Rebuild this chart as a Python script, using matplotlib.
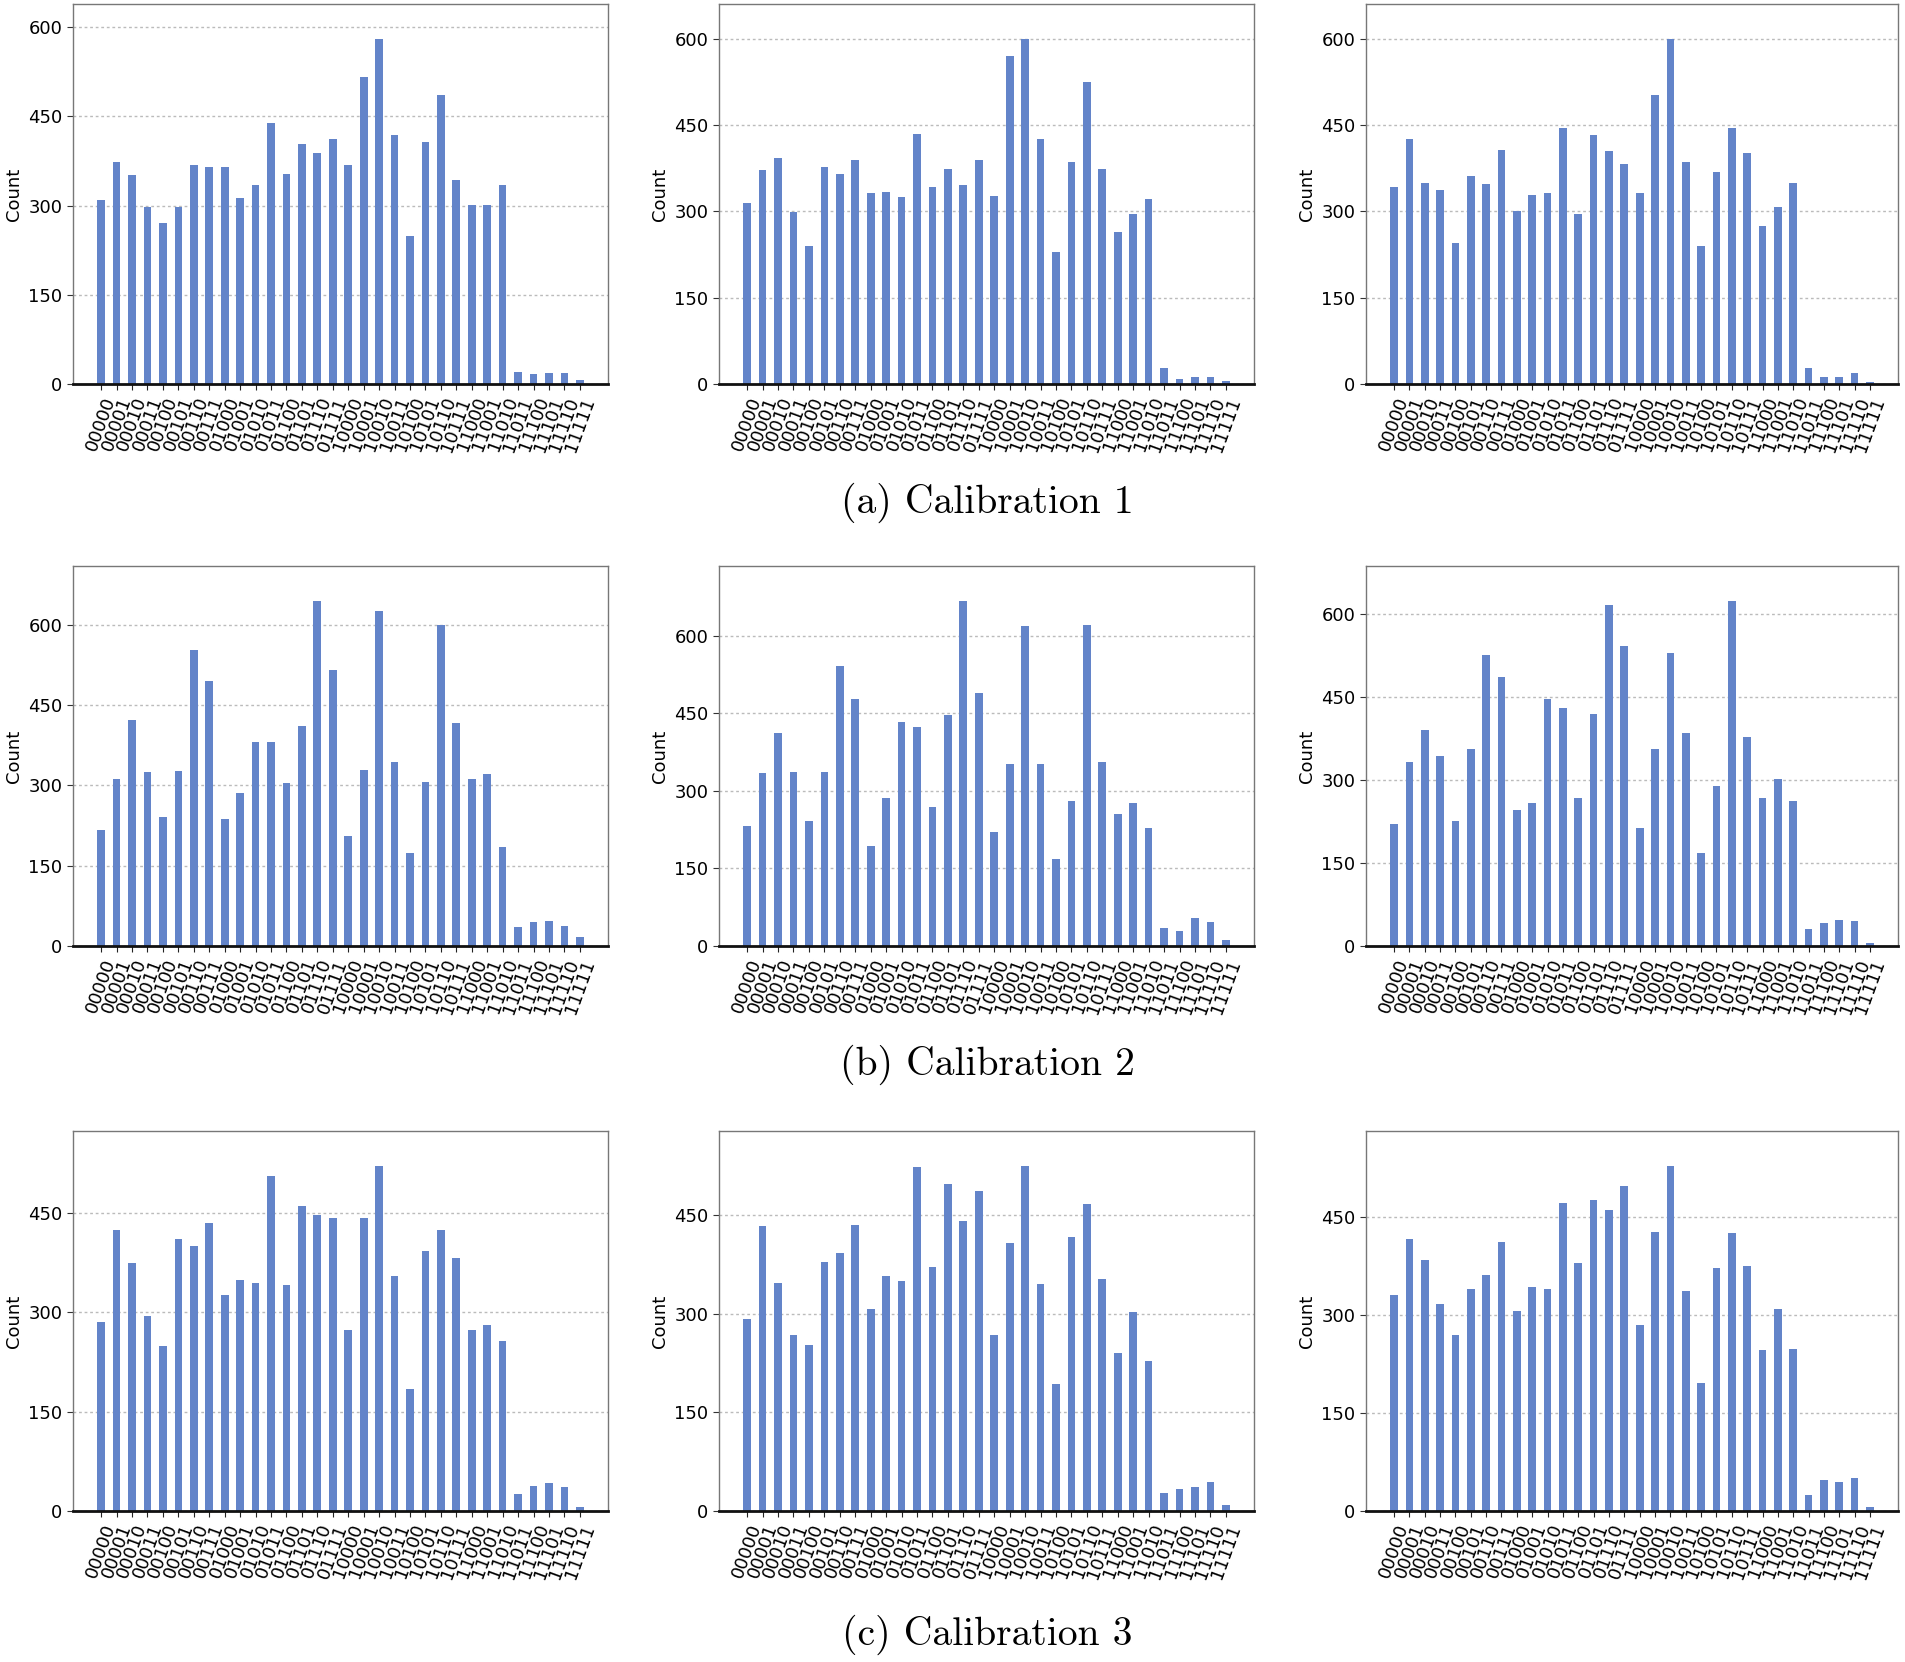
import matplotlib
matplotlib.use("Agg")
import matplotlib.pyplot as plt
from matplotlib.ticker import MultipleLocator

# 5-qubit basis states on the x axis
states = [format(i, "05b") for i in range(32)]

# (a) Calibration 1 -- three runs
counts_a1 = [309, 374, 351, 297, 271, 297, 368, 365, 365, 313, 335, 439, 353, 403, 388, 412,
             368, 516, 581, 419, 249, 407, 486, 343, 301, 301, 335, 21, 17, 19, 19, 6]
counts_a2 = [315, 371, 392, 298, 239, 377, 364, 389, 331, 334, 325, 435, 342, 373, 346, 389,
             327, 569, 600, 425, 230, 386, 524, 373, 264, 295, 321, 28, 9, 12, 12, 6]
counts_a3 = [342, 425, 349, 337, 245, 362, 347, 407, 300, 328, 331, 445, 296, 433, 405, 382,
             331, 502, 600, 385, 240, 368, 445, 401, 275, 307, 349, 28, 12, 12, 19, 3]

# (b) Calibration 2
counts_b1 = [217, 312, 422, 325, 240, 326, 553, 495, 238, 285, 381, 381, 305, 411, 645, 516,
             205, 329, 625, 343, 174, 306, 599, 417, 312, 322, 184, 36, 45, 47, 37, 16]
counts_b2 = [232, 334, 412, 337, 242, 337, 541, 477, 194, 286, 434, 423, 268, 446, 668, 490,
             221, 351, 619, 351, 168, 280, 621, 355, 255, 276, 229, 35, 29, 55, 46, 12]
counts_b3 = [220, 332, 391, 344, 227, 356, 527, 487, 246, 259, 446, 430, 268, 420, 617, 543,
             213, 356, 531, 385, 169, 290, 625, 379, 268, 302, 263, 30, 42, 47, 45, 6]

# (c) Calibration 3
counts_c1 = [286, 424, 374, 294, 250, 411, 400, 435, 326, 349, 345, 506, 342, 461, 447, 443,
             274, 443, 522, 355, 184, 393, 424, 382, 274, 281, 257, 25, 38, 43, 37, 6]
counts_c2 = [292, 433, 347, 268, 252, 379, 392, 435, 307, 357, 350, 523, 371, 497, 440, 486,
             268, 408, 525, 345, 193, 416, 467, 352, 240, 303, 228, 27, 33, 37, 44, 9]
counts_c3 = [330, 416, 384, 316, 269, 340, 360, 411, 305, 342, 340, 470, 379, 476, 460, 497,
             285, 427, 528, 336, 196, 371, 425, 374, 246, 309, 247, 25, 48, 44, 51, 6]

rows = [
    ("(a) Calibration 1", [counts_a1, counts_a2, counts_a3]),
    ("(b) Calibration 2", [counts_b1, counts_b2, counts_b3]),
    ("(c) Calibration 3", [counts_c1, counts_c2, counts_c3]),
]

W, H = 1905, 1662
BAR_COLOR = "#6384c9"

fig = plt.figure(figsize=(W / 100, H / 100), dpi=100)

col_left = [73, 719, 1366]
col_width = [535, 535, 532]
row_top = [4, 566, 1131]
row_h = 380
caption_y = [503, 1065, 1635]


def histogram(ax, counts):
    x = range(len(states))
    ax.bar(x, counts, 0.5, color=BAR_COLOR, zorder=2)
    ax.set_ylim(0, max(counts) * 1.1)
    ax.yaxis.set_major_locator(MultipleLocator(150))
    ax.set_xticks(list(x))
    ax.set_xticklabels(states, rotation=70, fontsize=13)
    ax.tick_params(axis="y", labelsize=13, length=4, color="#333333")
    ax.tick_params(axis="x", length=4, color="#222222")
    ax.set_ylabel("Count", fontsize=13)
    ax.grid(axis="y", linestyle=(0, (2, 2)), color="#bbbbbb", linewidth=1.0, zorder=0)
    for side in ("top", "right", "left"):
        ax.spines[side].set_color("#777777")
        ax.spines[side].set_linewidth(1.0)
    ax.spines["bottom"].set_color("#111111")
    ax.spines["bottom"].set_linewidth(2.0)


for r, (caption, runs) in enumerate(rows):
    for c, counts in enumerate(runs):
        rect = [col_left[c] / W, 1 - (row_top[r] + row_h) / H, col_width[c] / W, row_h / H]
        ax = fig.add_axes(rect)
        histogram(ax, counts)
    fig.text(987 / W, 1 - caption_y[r] / H, caption, fontsize=28.5, family="cmr10",
             ha="center", va="center")

fig.savefig("out.png", dpi=100, facecolor="white")
